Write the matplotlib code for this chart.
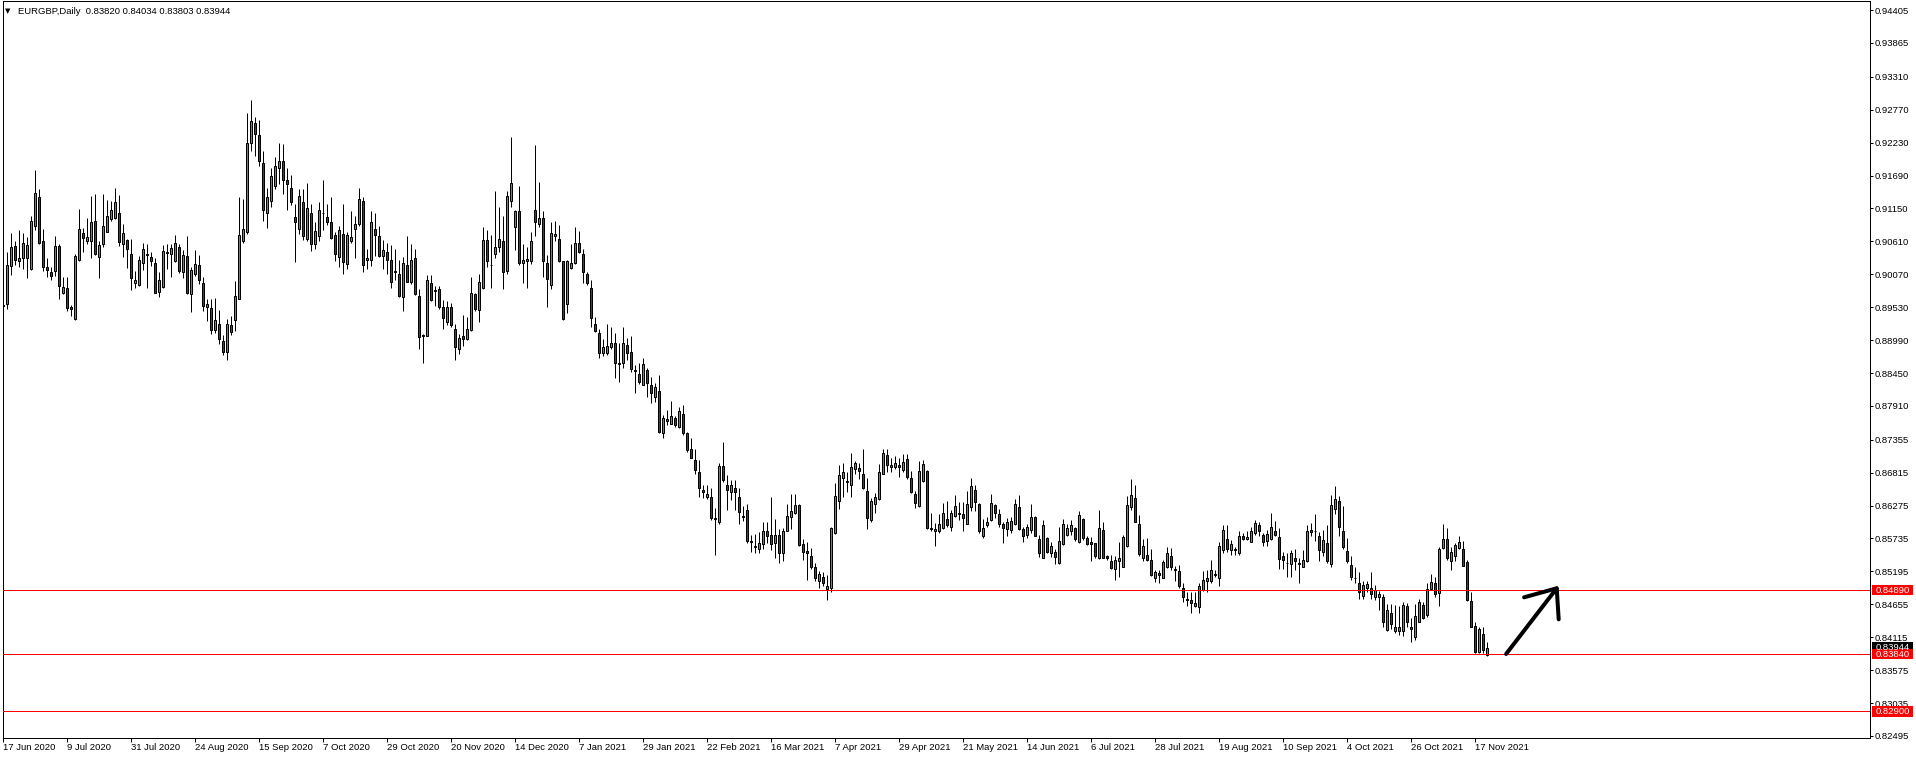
import numpy as np
import matplotlib
matplotlib.use("Agg")
import matplotlib.pyplot as plt
from matplotlib.patches import Rectangle
import matplotlib.transforms as mtransforms

plt.rcParams['font.family'] = ['Liberation Sans', 'DejaVu Sans']

# ---------------- data (EURGBP daily candles) ----------------
opens = [
0.8955,0.8959,0.9020,0.9053,0.9029,0.9033,0.9033,0.9015,0.9086,0.9133,
0.9061,0.9019,0.9010,0.9013,0.9053,0.8977,0.8984,0.8953,0.8934,0.9031,
0.9075,0.9062,0.9062,0.9094,0.9036,0.9057,0.9077,0.9097,0.9100,0.9107,
0.9056,0.9063,0.9040,0.8992,0.8990,0.9026,0.9039,0.9035,0.9025,0.8978,
0.8986,0.9043,0.9041,0.9029,0.9051,0.9011,0.9037,0.8974,0.9008,0.9022,
0.8992,0.8954,0.8951,0.8916,0.8925,0.8897,0.8879,0.8924,0.8932,0.8967,
0.9062,0.9077,0.9223,0.9255,0.9236,0.9189,0.9108,0.9127,0.9152,0.9181,
0.9192,0.9162,0.9148,0.9101,0.9082,0.9125,0.9065,0.9107,0.9057,0.9069,
0.9107,0.9101,0.9092,0.9071,0.9036,0.9073,0.9024,0.9062,0.9082,0.9090,
0.9127,0.9031,0.9030,0.9081,0.9070,0.9037,0.9043,0.9030,0.9012,0.9008,
0.8969,0.9023,0.8995,0.9033,0.8971,0.8907,0.8906,0.8992,0.8981,0.8982,
0.8954,0.8929,0.8953,0.8918,0.8885,0.8906,0.8901,0.8916,0.8974,0.8949,
0.8984,0.9063,0.9023,0.9041,0.9051,0.9061,0.9013,0.9127,0.9085,0.9111,
0.9026,0.9028,0.9028,0.9113,0.9089,0.9100,0.9026,0.8990,0.9069,0.9065,
0.9029,0.8959,0.9018,0.9025,0.9058,0.9040,0.9008,0.8984,0.8926,0.8910,
0.8878,0.8877,0.8887,0.8894,0.8861,0.8861,0.8891,0.8879,0.8850,0.8843,
0.8826,0.8850,0.8826,0.8806,0.8815,0.8746,0.8769,0.8762,0.8772,0.8757,
0.8777,0.8746,0.8721,0.8703,0.8682,0.8653,0.8642,0.8641,0.8607,0.8600,
0.8692,0.8662,0.8650,0.8656,0.8641,0.8610,0.8620,0.8569,0.8561,0.8557,
0.8564,0.8586,0.8579,0.8566,0.8579,0.8550,0.8586,0.8609,0.8616,0.8628,
0.8565,0.8553,0.8545,0.8526,0.8503,0.8511,0.8491,0.8493,0.8583,0.8635,
0.8672,0.8668,0.8661,0.8688,0.8689,0.8679,0.8651,0.8604,0.8630,0.8638,
0.8680,0.8710,0.8690,0.8690,0.8694,0.8686,0.8704,0.8673,0.8646,0.8627,
0.8668,0.8684,0.8591,0.8585,0.8585,0.8590,0.8605,0.8592,0.8611,0.8613,
0.8613,0.8598,0.8625,0.8653,0.8630,0.8578,0.8595,0.8604,0.8628,0.8613,
0.8597,0.8589,0.8587,0.8597,0.8625,0.8589,0.8579,0.8587,0.8608,0.8572,
0.8542,0.8574,0.8549,0.8551,0.8533,0.8564,0.8580,0.8586,0.8590,0.8567,
0.8605,0.8575,0.8567,0.8566,0.8541,0.8587,0.8544,0.8537,0.8523,0.8537,
0.8527,0.8561,0.8625,0.8640,0.8597,0.8541,0.8546,0.8538,0.8509,0.8517,
0.8509,0.8526,0.8545,0.8524,0.8520,0.8492,0.8472,0.8473,0.8462,0.8461,
0.8489,0.8503,0.8504,0.8516,0.8509,0.8554,0.8573,0.8555,0.8556,0.8550,
0.8578,0.8573,0.8568,0.8582,0.8596,0.8579,0.8570,0.8572,0.8586,0.8576,
0.8545,0.8534,0.8531,0.8541,0.8533,0.8527,0.8536,0.8588,0.8586,0.8578,
0.8552,0.8566,0.8532,0.8622,0.8635,0.8586,0.8553,0.8530,0.8509,0.8500,
0.8479,0.8493,0.8493,0.8478,0.8477,0.8478,0.8424,0.8451,0.8422,0.8422,
0.8421,0.8462,0.8428,0.8412,0.8437,0.8465,0.8448,0.8491,0.8500,0.8484,
0.8558,0.8572,0.8537,0.8545,0.8558,0.8556,0.8535,0.8471,0.8430,0.8388,
0.8417,0.83820]

highs = [
0.8993,0.9043,0.9074,0.9062,0.9080,0.9075,0.9068,0.9102,0.9178,0.9147,
0.9081,0.9033,0.9019,0.9069,0.9057,0.9002,0.9002,0.8956,0.9041,0.9114,
0.9083,0.9100,0.9135,0.9139,0.9062,0.9138,0.9129,0.9127,0.9149,0.9137,
0.9089,0.9065,0.9065,0.9013,0.9037,0.9059,0.9056,0.9044,0.9033,0.9011,
0.9055,0.9057,0.9057,0.9071,0.9057,0.9047,0.9070,0.9019,0.9047,0.9038,
0.9003,0.8966,0.8966,0.8968,0.8948,0.8908,0.8934,0.8938,0.8996,0.9134,
0.9131,0.9272,0.9293,0.9265,0.9260,0.9209,0.9149,0.9182,0.9200,0.9222,
0.9220,0.9182,0.9170,0.9123,0.9147,0.9147,0.9157,0.9123,0.9092,0.9126,
0.9162,0.9123,0.9133,0.9077,0.9086,0.9123,0.9077,0.9111,0.9102,0.9149,
0.9133,0.9048,0.9110,0.9107,0.9086,0.9063,0.9059,0.9055,0.9049,0.9030,
0.9036,0.9070,0.9057,0.9049,0.8983,0.8909,0.9006,0.9006,0.8987,0.8988,
0.8964,0.8963,0.8960,0.8926,0.8909,0.8940,0.8937,0.9003,0.8976,0.9007,
0.9085,0.9080,0.9072,0.9144,0.9117,0.9102,0.9144,0.9233,0.9113,0.9151,
0.9056,0.9052,0.9077,0.9219,0.9158,0.9110,0.9039,0.9093,0.9094,0.9088,
0.9029,0.9030,0.9056,0.9085,0.9078,0.9049,0.9010,0.8998,0.8937,0.8918,
0.8900,0.8926,0.8920,0.8910,0.8894,0.8920,0.8903,0.8905,0.8858,0.8861,
0.8870,0.8853,0.8838,0.8829,0.8841,0.8776,0.8784,0.8799,0.8774,0.8790,
0.8792,0.8749,0.8739,0.8720,0.8702,0.8662,0.8662,0.8656,0.8624,0.8698,
0.8731,0.8678,0.8669,0.8669,0.8656,0.8626,0.8630,0.8580,0.8581,0.8584,
0.8601,0.8601,0.8642,0.8605,0.8589,0.8591,0.8630,0.8647,0.8646,0.8630,
0.8573,0.8567,0.8558,0.8534,0.8520,0.8518,0.8513,0.8593,0.8665,0.8694,
0.8698,0.8682,0.8713,0.8701,0.8698,0.8720,0.8673,0.8640,0.8648,0.8695,
0.8720,0.8720,0.8706,0.8709,0.8706,0.8712,0.8712,0.8684,0.8651,0.8701,
0.8702,0.8686,0.8615,0.8599,0.8613,0.8632,0.8635,0.8621,0.8645,0.8633,
0.8634,0.8651,0.8673,0.8662,0.8631,0.8605,0.8609,0.8646,0.8630,0.8622,
0.8601,0.8607,0.8608,0.8639,0.8645,0.8592,0.8598,0.8630,0.8610,0.8579,
0.8604,0.8576,0.8567,0.8556,0.8593,0.8605,0.8597,0.8604,0.8593,0.8618,
0.8607,0.8578,0.8576,0.8566,0.8620,0.8601,0.8546,0.8547,0.8544,0.8568,
0.8580,0.8644,0.8671,0.8661,0.8612,0.8572,0.8574,0.8557,0.8521,0.8522,
0.8539,0.8559,0.8558,0.8529,0.8530,0.8501,0.8485,0.8486,0.8485,0.8500,
0.8520,0.8522,0.8538,0.8522,0.8567,0.8595,0.8596,0.8571,0.8560,0.8586,
0.8583,0.8585,0.8593,0.8604,0.8601,0.8582,0.8588,0.8616,0.8603,0.8590,
0.8552,0.8549,0.8554,0.8556,0.8541,0.8555,0.8596,0.8599,0.8613,0.8584,
0.8588,0.8596,0.8645,0.8660,0.8644,0.8626,0.8574,0.8545,0.8527,0.8519,
0.8503,0.8504,0.8519,0.8497,0.8488,0.8483,0.8466,0.8466,0.8465,0.8462,
0.8470,0.8468,0.8443,0.8466,0.8475,0.8470,0.8500,0.8515,0.8511,0.8560,
0.8597,0.8590,0.8560,0.8566,0.8577,0.8570,0.8539,0.8485,0.8437,0.8429,
0.8429,0.84034]

lows = [
0.8938,0.8950,0.9005,0.9022,0.9019,0.9016,0.9001,0.9014,0.9079,0.9057,
0.9012,0.9003,0.8997,0.9004,0.8966,0.8974,0.8947,0.8939,0.8932,0.9028,
0.9043,0.9056,0.9033,0.9038,0.9001,0.9051,0.9077,0.9094,0.9097,0.9054,
0.9036,0.9018,0.8981,0.8984,0.8988,0.9014,0.8985,0.9020,0.8977,0.8970,
0.8985,0.9016,0.9002,0.9027,0.9009,0.9001,0.8974,0.8945,0.9004,0.8991,
0.8946,0.8931,0.8909,0.8911,0.8893,0.8875,0.8867,0.8908,0.8914,0.8966,
0.9059,0.9073,0.9209,0.9201,0.9185,0.9095,0.9083,0.9117,0.9147,0.9155,
0.9139,0.9113,0.9120,0.9027,0.9073,0.9064,0.9062,0.9045,0.9048,0.9062,
0.9079,0.9088,0.9065,0.9029,0.9019,0.9008,0.9016,0.9059,0.9033,0.9086,
0.9011,0.9015,0.9021,0.9037,0.9036,0.9015,0.9008,0.8985,0.8998,0.8970,
0.8946,0.8994,0.8991,0.8973,0.8884,0.8862,0.8905,0.8963,0.8955,0.8950,
0.8917,0.8924,0.8921,0.8867,0.8876,0.8890,0.8899,0.8914,0.8946,0.8929,
0.8983,0.9019,0.8984,0.9033,0.9044,0.8983,0.9007,0.9117,0.9046,0.9023,
0.8993,0.8984,0.9024,0.9070,0.9085,0.9002,0.8954,0.8983,0.9062,0.9027,
0.8932,0.8944,0.9015,0.9024,0.9042,0.8993,0.8989,0.8921,0.8912,0.8870,
0.8873,0.8874,0.8884,0.8837,0.8831,0.8854,0.8866,0.8847,0.8813,0.8827,
0.8825,0.8806,0.8796,0.8798,0.8747,0.8739,0.8760,0.8761,0.8757,0.8755,
0.8744,0.8716,0.8705,0.8680,0.8642,0.8640,0.8639,0.8604,0.8546,0.8597,
0.8667,0.8621,0.8637,0.8620,0.8597,0.8603,0.8566,0.8552,0.8550,0.8549,
0.8556,0.8566,0.8554,0.8541,0.8534,0.8536,0.8586,0.8589,0.8614,0.8562,
0.8538,0.8505,0.8523,0.8503,0.8493,0.8495,0.8473,0.8486,0.8581,0.8622,
0.8641,0.8649,0.8641,0.8679,0.8671,0.8654,0.8589,0.8601,0.8615,0.8637,
0.8679,0.8683,0.8682,0.8687,0.8675,0.8683,0.8671,0.8648,0.8624,0.8625,
0.8666,0.8589,0.8585,0.8562,0.8582,0.8589,0.8593,0.8585,0.8608,0.8604,
0.8585,0.8597,0.8618,0.8618,0.8583,0.8575,0.8593,0.8603,0.8607,0.8593,
0.8566,0.8578,0.8582,0.8596,0.8587,0.8568,0.8575,0.8582,0.8577,0.8543,
0.8541,0.8549,0.8543,0.8531,0.8532,0.8563,0.8577,0.8580,0.8570,0.8566,
0.8571,0.8563,0.8537,0.8542,0.8540,0.8541,0.8539,0.8523,0.8505,0.8511,
0.8526,0.8559,0.8621,0.8600,0.8544,0.8537,0.8537,0.8512,0.8502,0.8501,
0.8508,0.8525,0.8522,0.8503,0.8492,0.8470,0.8462,0.8451,0.8461,0.8452,
0.8488,0.8485,0.8501,0.8510,0.8496,0.8550,0.8551,0.8547,0.8547,0.8547,
0.8571,0.8571,0.8567,0.8580,0.8578,0.8561,0.8562,0.8571,0.8578,0.8523,
0.8523,0.8511,0.8511,0.8521,0.8501,0.8526,0.8535,0.8578,0.8570,0.8537,
0.8545,0.8533,0.8526,0.8613,0.8578,0.8556,0.8533,0.8506,0.8501,0.8475,
0.8475,0.8486,0.8475,0.8473,0.8456,0.8429,0.8421,0.8425,0.8418,0.8415,
0.8414,0.8429,0.8403,0.8407,0.8436,0.8441,0.8445,0.8489,0.8478,0.8462,
0.8556,0.8538,0.8521,0.8537,0.8556,0.8529,0.8471,0.8428,0.8385,0.8386,
0.8385,0.83803]

closes = [
0.8957,0.9022,0.9051,0.9031,0.9033,0.9059,0.9055,0.9094,0.9141,0.9059,
0.9019,0.9014,0.9004,0.9053,0.8988,0.8986,0.8952,0.8950,0.9037,0.9081,
0.9066,0.9068,0.9092,0.9041,0.9055,0.9086,0.9103,0.9112,0.9125,0.9060,
0.9074,0.9048,0.9001,0.8997,0.9030,0.9048,0.9040,0.9029,0.8977,0.8998,
0.9045,0.9042,0.9050,0.9059,0.9012,0.9038,0.8977,0.9014,0.9024,0.8998,
0.8955,0.8958,0.8916,0.8932,0.8900,0.8879,0.8925,0.8913,0.8971,0.9072,
0.9081,0.9223,0.9258,0.9237,0.9192,0.9113,0.9133,0.9168,0.9185,0.9192,
0.9162,0.9155,0.9125,0.9093,0.9135,0.9070,0.9115,0.9056,0.9078,0.9113,
0.9108,0.9092,0.9067,0.9041,0.9080,0.9027,0.9072,0.9068,0.9090,0.9131,
0.9022,0.9034,0.9092,0.9072,0.9037,0.9047,0.9031,0.8994,0.9010,0.8972,
0.9026,0.8995,0.9031,0.8975,0.8904,0.8905,0.8998,0.8965,0.8979,0.8953,
0.8936,0.8953,0.8923,0.8888,0.8902,0.8900,0.8918,0.8976,0.8950,0.8994,
0.9063,0.9029,0.9022,0.9051,0.9065,0.9011,0.9135,0.9156,0.9111,0.9026,
0.9031,0.9032,0.9061,0.9092,0.9099,0.9028,0.9000,0.9075,0.9073,0.9028,
0.8933,0.9029,0.9026,0.9058,0.9044,0.9011,0.8993,0.8935,0.8914,0.8878,
0.8887,0.8889,0.8895,0.8862,0.8860,0.8895,0.8878,0.8852,0.8849,0.8831,
0.8859,0.8828,0.8812,0.8822,0.8749,0.8772,0.8767,0.8774,0.8759,0.8782,
0.8746,0.8718,0.8706,0.8686,0.8656,0.8650,0.8646,0.8607,0.8605,0.8692,
0.8669,0.8653,0.8661,0.8649,0.8617,0.8609,0.8570,0.8567,0.8560,0.8566,
0.8586,0.8578,0.8564,0.8579,0.8549,0.8586,0.8610,0.8618,0.8628,0.8563,
0.8551,0.8549,0.8527,0.8509,0.8515,0.8500,0.8496,0.8591,0.8643,0.8678,
0.8682,0.8666,0.8691,0.8697,0.8685,0.8656,0.8607,0.8635,0.8642,0.8683,
0.8713,0.8694,0.8694,0.8697,0.8691,0.8699,0.8674,0.8650,0.8631,0.8685,
0.8696,0.8590,0.8589,0.8589,0.8598,0.8615,0.8595,0.8616,0.8627,0.8616,
0.8607,0.8630,0.8659,0.8633,0.8585,0.8590,0.8600,0.8631,0.8616,0.8597,
0.8591,0.8600,0.8602,0.8630,0.8589,0.8578,0.8592,0.8608,0.8578,0.8549,
0.8596,0.8552,0.8561,0.8543,0.8569,0.8597,0.8590,0.8595,0.8572,0.8612,
0.8575,0.8564,0.8565,0.8544,0.8590,0.8542,0.8542,0.8525,0.8538,0.8541,
0.8576,0.8629,0.8645,0.8600,0.8548,0.8561,0.8538,0.8513,0.8518,0.8513,
0.8535,0.8549,0.8526,0.8522,0.8495,0.8478,0.8475,0.8468,0.8467,0.8496,
0.8506,0.8509,0.8522,0.8513,0.8561,0.8588,0.8556,0.8565,0.8554,0.8578,
0.8572,0.8576,0.8586,0.8599,0.8585,0.8568,0.8581,0.8592,0.8580,0.8540,
0.8539,0.8533,0.8549,0.8536,0.8531,0.8539,0.8586,0.8584,0.8585,0.8555,
0.8571,0.8536,0.8629,0.8638,0.8592,0.8559,0.8537,0.8511,0.8508,0.8486,
0.8498,0.8499,0.8482,0.8489,0.8482,0.8437,0.8456,0.8434,0.8428,0.8428,
0.8465,0.8436,0.8425,0.8447,0.8469,0.8443,0.8491,0.8502,0.8482,0.8556,
0.8572,0.8541,0.8552,0.8563,0.8567,0.8529,0.8473,0.8429,0.8388,0.8425,
0.8390,0.83944]

date_labels = ["17 Jun 2020", "9 Jul 2020", "31 Jul 2020", "24 Aug 2020",
               "15 Sep 2020", "7 Oct 2020", "29 Oct 2020", "20 Nov 2020",
               "14 Dec 2020", "7 Jan 2021", "29 Jan 2021", "22 Feb 2021",
               "16 Mar 2021", "7 Apr 2021", "29 Apr 2021", "21 May 2021",
               "14 Jun 2021", "6 Jul 2021", "28 Jul 2021", "19 Aug 2021",
               "10 Sep 2021", "4 Oct 2021", "26 Oct 2021", "17 Nov 2021"]
label_every = 16   # one date label every 16 bars

price_ticks = [0.94405, 0.93865, 0.93310, 0.92770, 0.92230, 0.91690, 0.91150,
               0.90610, 0.90070, 0.89530, 0.88990, 0.88450, 0.87910, 0.87355,
               0.86815, 0.86275, 0.85735, 0.85195, 0.84655, 0.84115, 0.83575,
               0.83035, 0.82495]
level_prices = [0.84890, 0.83840, 0.82900]
current_price = 0.83944
header_symbol = "EURGBP,Daily"
header_ohlc = "0.83820 0.84034 0.83803 0.83944"

# arrow annotation (bar index, price)
arrow_shaft = [(375.7, 0.83840), (388.35, 0.84918)]
arrow_head = [(380.2, 0.84770), (388.35, 0.84918), (388.85, 0.84409)]

# ---------------- figure ----------------
W, H = 1916, 759
DPI = 100
PX = 72.0 / DPI  # points per pixel
fig = plt.figure(figsize=(W / DPI, H / DPI), dpi=DPI, facecolor='white')
ax = fig.add_axes([2.5 / W, 21 / H, (1870 - 2.5) / W, (738 - 1) / H])
ax.set_facecolor('white')

n = len(closes)
x = np.arange(n)
o = np.array(opens); h = np.array(highs); l = np.array(lows); c = np.array(closes)
up = c >= o
GREEN = '#32B232'
RED = '#E00000'
colors = np.where(up, GREEN, RED)

ax.vlines(x, l, h, color='black', linewidth=1 * PX, zorder=2)
ax.bar(x, np.abs(c - o), bottom=np.minimum(o, c), width=0.5, color=colors,
       edgecolor='black', linewidth=1 * PX, zorder=3)

for p in level_prices:
    ax.axhline(p, color='#FF0000', linewidth=1 * PX, zorder=4)

ax.plot(*zip(*arrow_shaft), color='black', linewidth=4 * PX,
        solid_capstyle='round', zorder=5, clip_on=False)
ax.plot(*zip(*arrow_head), color='black', linewidth=4 * PX,
        solid_capstyle='round', solid_joinstyle='round', zorder=5, clip_on=False)

ax.set_xlim(-0.2, 466.675)
ax.set_ylim(0.82462, 0.94553)

for s in ax.spines.values():
    s.set_color('black')
    s.set_linewidth(1 * PX)

ax.yaxis.tick_right()
ax.set_yticks(price_ticks)
ax.set_yticklabels([f"{v:.5f}" for v in price_ticks])
ax.tick_params(axis='y', direction='out', length=3 * PX, width=1 * PX,
               pad=1.5, labelsize=6.8, colors='black')

ax.set_xticks(np.arange(len(date_labels)) * label_every)
ax.set_xticklabels(date_labels, ha='left')
ax.tick_params(axis='x', direction='out', length=4 * PX, width=1 * PX,
               pad=0.5, labelsize=6.8, colors='black')

# right-hand price labels
tr = mtransforms.blended_transform_factory(fig.transFigure, ax.transData)
box_h = 0.00175
for p, fc in [(current_price, 'black')] + [(p, '#FF0000') for p in level_prices]:
    ax.add_patch(Rectangle((1872 / W, p - box_h / 2), 41 / W, box_h,
                           transform=tr, facecolor=fc, edgecolor='none',
                           clip_on=False, zorder=10))
    ax.text(1876 / W, p, f"{p:.5f}", transform=tr, color='white',
            fontsize=6.8, va='center', ha='left', clip_on=False, zorder=11)

# header
fig.text(5 / W, 1 - 11 / H, "\u25BC", fontsize=5, va='center', ha='left',
         family=['DejaVu Sans'])
fig.text(18 / W, 1 - 11 / H, header_symbol + "  " + header_ohlc,
         fontsize=6.8, va='center', ha='left')

fig.savefig("out.png", dpi=DPI, facecolor='white')
